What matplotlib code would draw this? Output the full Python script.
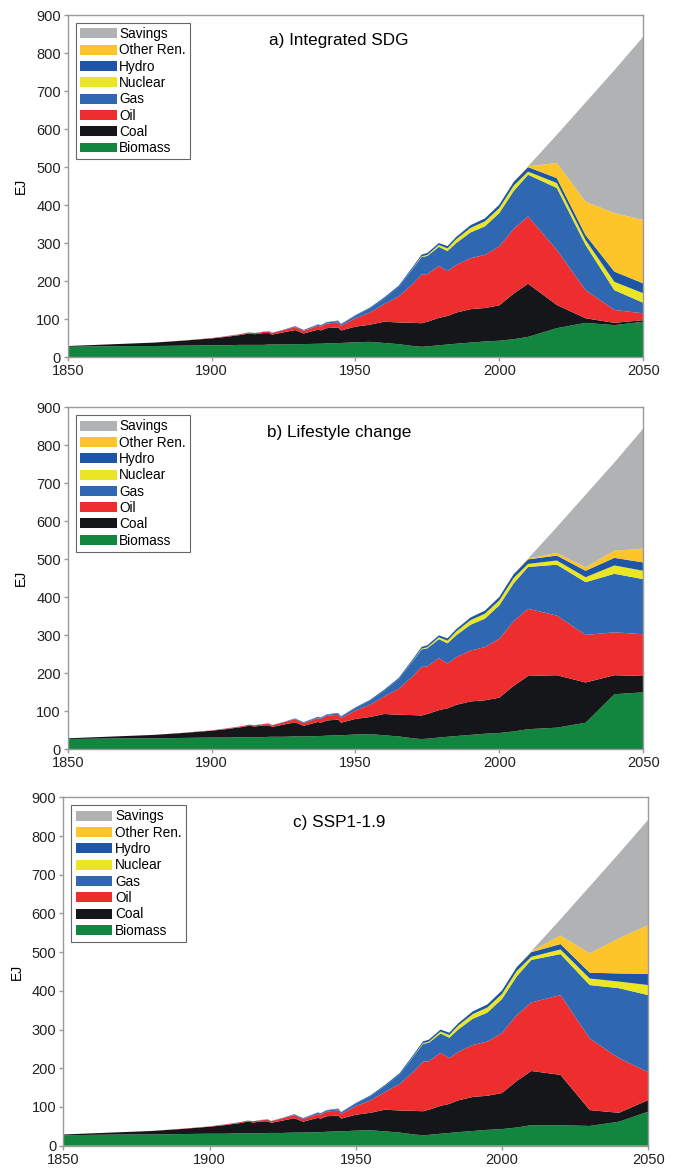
import matplotlib
matplotlib.use("Agg")
import matplotlib.pyplot as plt
from matplotlib.patches import Patch

plt.rcParams['font.family'] = ['Liberation Sans', 'DejaVu Sans']

# historical primary energy (EJ), shared by all three panels
hist_years = [1850, 1860, 1870, 1880, 1890, 1900, 1905, 1910, 1913, 1915, 1918,
              1920, 1921, 1925, 1929, 1932, 1937, 1938, 1940, 1944, 1945, 1950,
              1955, 1960, 1965, 1970, 1973, 1975, 1979, 1982, 1985, 1990, 1995,
              2000, 2005, 2010]
hist_biomass = [27, 28, 29, 29, 30, 31, 31, 32, 32, 32, 32, 33, 33, 33, 34, 34, 35, 35,
                36, 37, 37, 39, 40, 37, 34, 29, 27, 28, 31, 33, 35, 38, 41, 43, 47, 53]
hist_coal = [2, 4, 6, 9, 13, 18, 22, 26, 30, 28, 31, 30, 26, 32, 37, 28, 37, 35,
             40, 41, 33, 41, 45, 56, 57, 61, 62, 65, 72, 75, 82, 88, 88, 93, 120, 140]
hist_oil = [0, 0, 0, 0, 0.5, 1, 1.5, 2, 2.5, 3, 3, 4, 4, 6, 8, 7, 10, 10,
            12, 13, 12, 22, 32, 46, 68, 103, 128, 125, 137, 118, 125, 134, 140, 155, 170, 177]
hist_gas = [0, 0, 0, 0, 0, 0, 0.5, 0.5, 0.5, 0.5, 1, 1, 1, 1, 2, 2, 3, 3,
            3, 4, 4, 7, 11, 15, 25, 40, 46, 48, 50, 53, 58, 68, 75, 88, 100, 110]
hist_nuclear = [0, 0, 0, 0, 0, 0, 0, 0, 0, 0, 0, 0, 0, 0, 0, 0, 0, 0,
                0, 0, 0, 0, 0, 0, 0, 1, 2, 3, 5, 7, 10, 12, 13, 13, 14, 8]
hist_hydro = [0, 0, 0, 0, 0, 0, 0, 0, 0, 0, 0, 0, 0, 0, 0.5, 0.5, 1, 1,
              1, 1, 1, 1.5, 2, 3, 3.5, 4, 4.5, 5, 5, 6, 6, 7, 8, 9, 10, 12]
hist_other = [0] * 35 + [2]
hist_savings = [0] * 36

scen_years = [2020, 2030, 2040, 2050]

# a) Integrated SDG
sdg_biomass = [76, 90, 84, 93]
sdg_coal = [61, 12, 6, 4]
sdg_oil = [145, 74, 34, 18]
sdg_gas = [163, 119, 52, 28]
sdg_nuclear = [13, 13, 22, 25]
sdg_hydro = [13, 13, 27, 26]
sdg_other = [40, 88, 154, 167]
sdg_savings = [74, 261, 376, 482]

# b) Lifestyle change
life_biomass = [57, 70, 145, 150]
life_coal = [138, 106, 50, 43]
life_oil = [157, 125, 113, 110]
life_gas = [134, 139, 154, 145]
life_nuclear = [11, 13, 22, 22]
life_hydro = [13, 17, 20, 22]
life_other = [7, 9, 19, 36]
life_savings = [68, 191, 232, 316]

# c) SSP1-1.9
ssp_biomass = [53, 51, 62, 88]
ssp_coal = [130, 41, 23, 30]
ssp_oil = [206, 185, 141, 72]
ssp_gas = [106, 138, 181, 199]
ssp_nuclear = [12, 17, 17, 26]
ssp_hydro = [14, 15, 21, 29]
ssp_other = [22, 50, 91, 126]
ssp_savings = [42, 173, 219, 272]

labels = ["Biomass", "Coal", "Oil", "Gas", "Nuclear", "Hydro", "Other Ren.", "Savings"]
colors = ["#12863F", "#141619", "#ED2D2E", "#2F68B0", "#EAE623", "#1F55A5",
          "#FDC52A", "#B0B2B3"]

hist = [hist_biomass, hist_coal, hist_oil, hist_gas, hist_nuclear, hist_hydro,
        hist_other, hist_savings]
panels = [
    ("a) Integrated SDG", [sdg_biomass, sdg_coal, sdg_oil, sdg_gas, sdg_nuclear,
                           sdg_hydro, sdg_other, sdg_savings],
     [0.1, 0.6951, 0.850, 0.292]),
    ("b) Lifestyle change", [life_biomass, life_coal, life_oil, life_gas, life_nuclear,
                             life_hydro, life_other, life_savings],
     [0.1, 0.3601, 0.850, 0.292]),
    ("c) SSP1-1.9", [ssp_biomass, ssp_coal, ssp_oil, ssp_gas, ssp_nuclear,
                     ssp_hydro, ssp_other, ssp_savings],
     [0.0935, 0.0216, 0.864, 0.2975]),
]

fig = plt.figure(figsize=(6.77, 11.71), dpi=100)
years = hist_years + scen_years
grey = "#9A9A9A"

for title, scen, rect in panels:
    ax = fig.add_axes(rect)
    series = [h + s for h, s in zip(hist, scen)]
    ax.stackplot(years, *series, colors=colors, linewidth=0)
    ax.set_xlim(1850, 2050)
    ax.set_ylim(0, 900)
    ax.set_xticks(range(1850, 2051, 50))
    ax.set_yticks(range(0, 901, 100))
    ax.tick_params(labelsize=10.5, color=grey, length=3, width=1, pad=2,
                   labelcolor="#222222")
    for sp in ax.spines.values():
        sp.set_color(grey)
        sp.set_linewidth(1)
    ax.set_ylabel("EJ", fontsize=10, labelpad=6)
    ax.text(0.471, 0.927, title, transform=ax.transAxes, ha="center",
            va="center", fontsize=12.3)
    handles = [Patch(facecolor=c, edgecolor="none") for c in colors][::-1]
    leg = ax.legend(handles, labels[::-1], loc="upper left",
                    bbox_to_anchor=(0.014, 0.977), borderaxespad=0,
                    fontsize=9.8, handlelength=2.7, handleheight=0.75,
                    handletextpad=0.2, labelspacing=0.17, borderpad=0.3,
                    fancybox=False, framealpha=1)
    leg.get_frame().set_edgecolor("#666666")
    leg.get_frame().set_linewidth(0.8)

fig.savefig("out.png", dpi=100)
